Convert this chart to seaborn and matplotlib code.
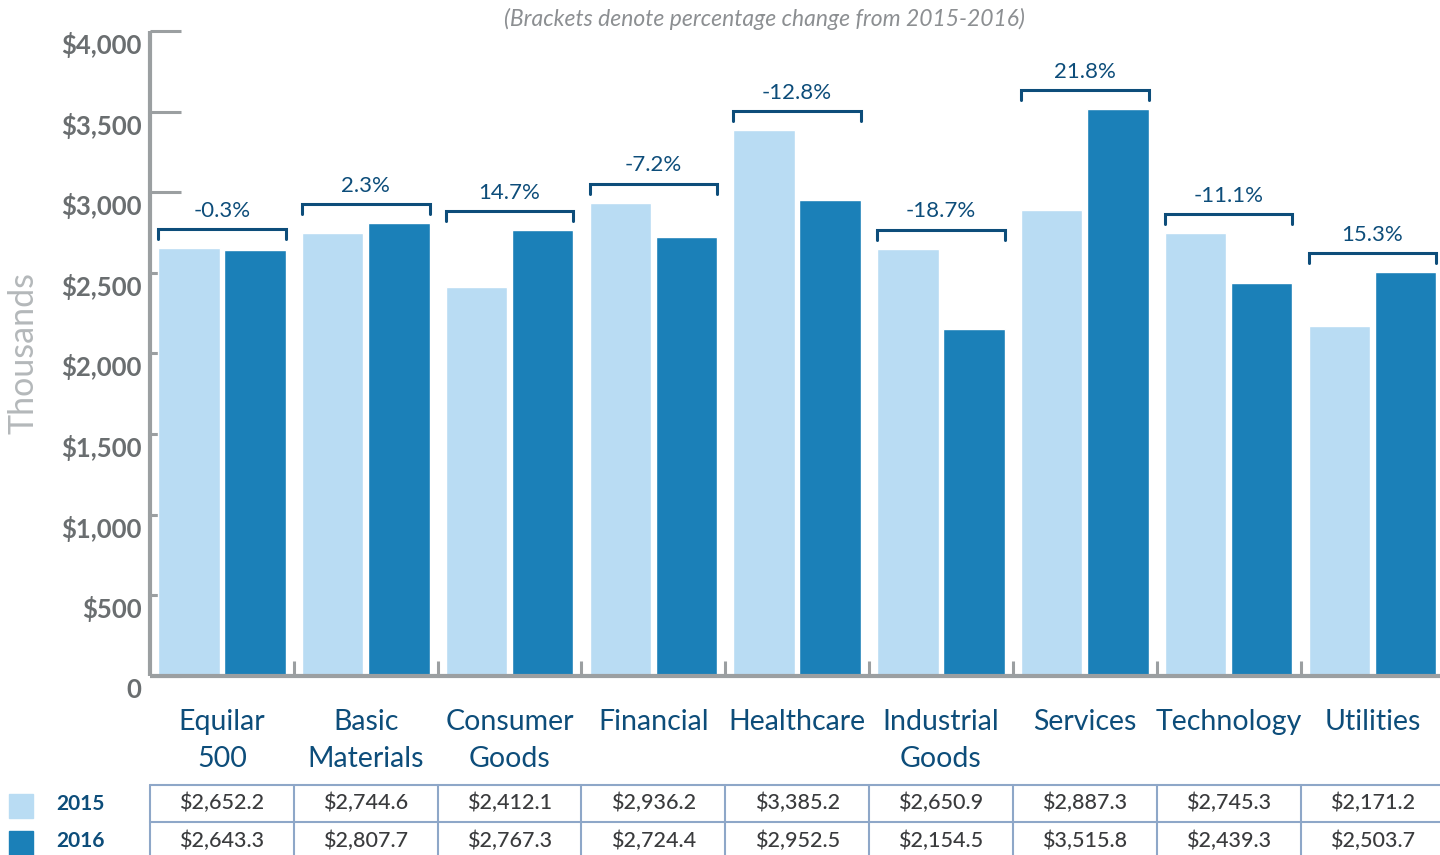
import matplotlib
matplotlib.use("Agg")
import matplotlib.pyplot as plt
import matplotlib.transforms as mtransforms
from matplotlib.lines import Line2D
from matplotlib.patches import Rectangle
import numpy as np
import pandas as pd
import seaborn as sns

# ---- data (thousands of dollars) ----
sectors = ["Equilar\n500", "Basic\nMaterials", "Consumer\nGoods", "Financial",
           "Healthcare", "Industrial\nGoods", "Services", "Technology", "Utilities"]
years = ["2015", "2016"]
values_2015 = [2652.2, 2744.6, 2412.1, 2936.2, 3385.2, 2650.9, 2887.3, 2745.3, 2171.2]
values_2016 = [2643.3, 2807.7, 2767.3, 2724.4, 2952.5, 2154.5, 3515.8, 2439.3, 2503.7]
pct_change = ["-0.3%", "2.3%", "14.7%", "-7.2%", "-12.8%", "-18.7%", "21.8%", "-11.1%", "15.3%"]
y_ticks = [0, 500, 1000, 1500, 2000, 2500, 3000, 3500, 4000]
y_tick_labels = ["0", "$500", "$1,000", "$1,500", "$2,000", "$2,500", "$3,000", "$3,500", "$4,000"]

# ---- styling ----
LIGHT = "#b9dcf3"
DARK = "#1b80b8"
NAVY = "#0d4d7a"
AXIS_GRAY = "#9b9fa1"
TICK_TEXT = "#6a6e70"
TABLE_LINE = "#8ea7c8"
FONT = ["Lato", "DejaVu Sans"]

sns.set_theme(style="white")
plt.rcParams["font.family"] = FONT

df = pd.DataFrame({
    "sector": sectors * 2,
    "year": [years[0]] * len(sectors) + [years[1]] * len(sectors),
    "value": values_2015 + values_2016,
})

fig = plt.figure(figsize=(14.4, 8.55), dpi=100)
ax = fig.add_axes([150 / 1440, 1 - 676 / 855, 1 - 150 / 1440, (676 - 31) / 855])

sns.barplot(data=df, x="sector", y="value", hue="year", order=sectors,
            hue_order=years, palette=[LIGHT, DARK], width=0.92, gap=0.07,
            saturation=1, legend=False, ax=ax, errorbar=None)

ax.set_xlim(-0.5, 8.47)
ax.set_ylim(0, 3990)

# spines
for side in ["top", "right"]:
    ax.spines[side].set_visible(False)
for side in ["left", "bottom"]:
    ax.spines[side].set_color(AXIS_GRAY)
    ax.spines[side].set_linewidth(3)
    ax.spines[side].set_capstyle("butt")

# y ticks: long inward marks, labels shifted a bit downward
ax.set_yticks(y_ticks)
ax.set_yticklabels(y_tick_labels)
ax.tick_params(axis="y", left=True, direction="in", length=22, width=2.2,
               color=AXIS_GRAY, labelsize=18.5, labelcolor=TICK_TEXT, pad=6)
shift = mtransforms.ScaledTranslation(0, -12 / 100, fig.dpi_scale_trans)
for lab in ax.get_yticklabels():
    lab.set_fontweight("bold")
    lab.set_transform(lab.get_transform() + shift)

# x axis: category labels, separator ticks between groups
ax.set_xticks(range(len(sectors)))
ax.set_xticklabels(sectors)
ax.tick_params(axis="x", which="major", bottom=False, length=0, labelsize=20.5,
               labelcolor=NAVY, pad=24)
for lab in ax.get_xticklabels():
    lab.set_linespacing(1.5)
ax.set_xticks(np.arange(0.5, len(sectors) - 1, 1.0), minor=True)
ax.tick_params(axis="x", which="minor", bottom=True, direction="in", length=11,
               width=2.2, color=AXIS_GRAY)
ax.set_xlabel("")
ax.set_ylabel("Thousands", fontsize=24.5, color="#b4b8ba")
ax.yaxis.set_label_coords(-0.086, 0.5)

# brackets with percentage change above each pair
bars = ax.patches
n = len(sectors)
for i in range(n):
    b15, b16 = bars[i], bars[n + i]
    x0 = b15.get_x()
    x1 = b16.get_x() + b16.get_width()
    top = max(b15.get_height(), b16.get_height())
    yb = top + 118
    ax.add_line(Line2D([x0, x0, x1, x1], [yb - 62, yb, yb, yb - 62],
                       color=NAVY, lw=2.2, solid_joinstyle="miter"))
    ax.text((x0 + x1) / 2, yb + 50, pct_change[i], ha="center", va="bottom",
            fontsize=16, color=NAVY)

# subtitle
fig.text(764 / 1440, 1 - 19 / 855, "(Brackets denote percentage change from 2015-2016)",
         ha="center", va="center", fontsize=16.5, style="italic", color="#8c8f92")

# data table under the chart
trans = mtransforms.blended_transform_factory(ax.transData, ax.transAxes)


def ypos(px):
    return (676 - px) / 645


row_lines = [785, 822, 860]
for py in row_lines:
    ax.add_line(Line2D([-0.5, n - 0.5], [ypos(py)] * 2, transform=trans,
                       color=TABLE_LINE, lw=1.5, clip_on=False))
for xi in np.arange(-0.5, n, 1.0):
    ax.add_line(Line2D([xi, xi], [ypos(785), ypos(860)], transform=trans,
                       color=TABLE_LINE, lw=1.5, clip_on=False))
for i in range(n):
    ax.text(i, ypos(803), f"${values_2015[i]:,.1f}", transform=trans, ha="center",
            va="center", fontsize=15.5, fontweight="medium", color="#3a3b3d",
            clip_on=False)
    ax.text(i, ypos(841), f"${values_2016[i]:,.1f}", transform=trans, ha="center",
            va="center", fontsize=15.5, fontweight="medium", color="#3a3b3d",
            clip_on=False)

# legend swatches in the table's row headers
for yr, col, py in [(years[0], LIGHT, 806), (years[1], DARK, 843)]:
    fig.patches.append(Rectangle((9 / 1440, 1 - (py + 12) / 855), 24 / 1440, 24 / 855,
                                 transform=fig.transFigure, color=col))
    fig.text(56 / 1440, 1 - (py - 2) / 855, yr, ha="left", va="center", fontsize=15,
             fontweight="bold", color=NAVY)

fig.savefig("out.png", dpi=100)
